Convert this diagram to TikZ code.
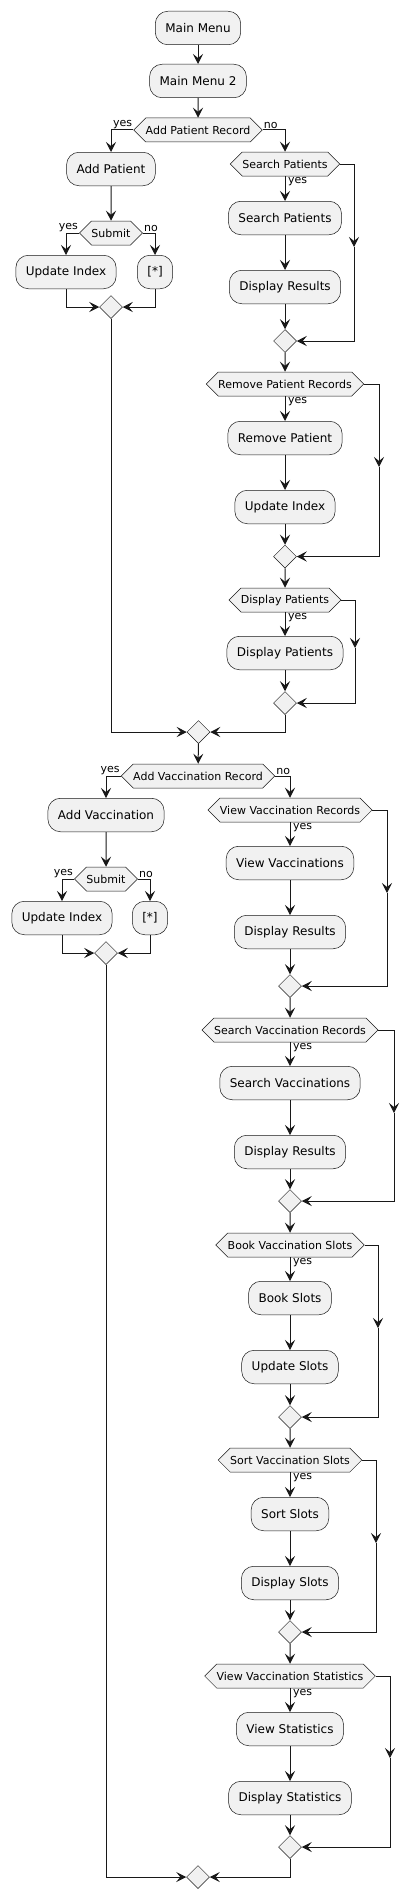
\documentclass[tikz,border=0pt]{standalone}
\usepackage{fontspec}
\setmainfont{DejaVu Sans}
\usetikzlibrary{arrows.meta, shapes.geometric, shapes.symbols}
\definecolor{actfill}{HTML}{F1F1F1}
\definecolor{actline}{HTML}{181818}

\begin{document}
\begin{tikzpicture}[
  x=1pt, y=-1pt,
  act/.style={draw=actline, line width=0.5pt, rounded corners=12.5pt, fill=actfill,
              minimum height=33.5pt, inner xsep=10pt, font=\fontsize{12}{14}\selectfont},
  cond/.style={draw=actline, line width=0.5pt, fill=actfill, signal,
               signal to=west and east, signal pointer angle=90,
               minimum height=24pt, inner xsep=0pt, inner ysep=0pt,
               font=\fontsize{11}{13}\selectfont},
  merge/.style={draw=actline, line width=0.5pt, fill=actfill, diamond,
                minimum width=23pt, minimum height=23pt, inner sep=0pt},
  arr/.style={-{Stealth[length=10pt, width=10pt, inset=4pt]}, line width=1pt, draw=actline},
  lbl/.style={font=\fontsize{11}{13}\selectfont, inner sep=1pt}
]
  \path[use as bounding box, fill=white] (0,0) rectangle (418,1900);

  % patient part
  \node[act] (main1) at (198,28) {Main Menu};
  \node[act] (main2) at (198,81) {Main Menu 2};
  \node[cond] (qpat) at (198,130) {Add Patient Record};
  \node[lbl, anchor=south east] (ypat) at (qpat.west) {yes};
  \node[lbl, anchor=south west] (npat) at (qpat.east) {no};

  \node[act] (addp) at (111,169) {Add Patient};
  \node[cond] (qsub1) at (111,233) {Submit};
  \node[lbl, anchor=south east] (ysub1) at (qsub1.west) {yes};
  \node[lbl, anchor=south west] (nsub1) at (qsub1.east) {no};
  \node[act] (upd1) at (66,272) {Update Index};
  \node[act] (star1) at (155,272) {[*]};
  \node[merge] (m1) at (111,307) {};

  \node[cond] (qsearch) at (285,164) {Search Patients};
  \node[lbl, anchor=north west] (ysearch) at ([xshift=2pt]qsearch.south) {yes};
  \node[act] (srch) at (285,218) {Search Patients};
  \node[act] (disp1) at (285,287) {Display Results};
  \node[merge] (m2) at (285,341) {};
  \coordinate (b1) at (354,247);

  \node[cond] (qrem) at (285,384) {Remove Patient Records};
  \node[lbl, anchor=north west] (yrem) at ([xshift=2pt]qrem.south) {yes};
  \node[act] (rem) at (285,438) {Remove Patient};
  \node[act] (upd2) at (285,507) {Update Index};
  \node[merge] (m3) at (285,556.5) {};
  \coordinate (b2) at (379,467);

  \node[cond] (qdisp) at (285,600) {Display Patients};
  \node[lbl, anchor=north west] (ydisp) at ([xshift=2pt]qdisp.south) {yes};
  \node[act] (dispp) at (285,653) {Display Patients};
  \node[merge] (m4) at (285,703) {};
  \coordinate (b3) at (355,648);

  \node[merge] (m5) at (198.5,732) {};

  % vaccination part
  \node[cond] (qvac) at (198,776) {Add Vaccination Record};
  \node[lbl, anchor=south east] (yvac) at (qvac.west) {yes};
  \node[lbl, anchor=south west] (nvac) at (qvac.east) {no};

  \node[act] (addv) at (106,815) {Add Vaccination};
  \node[cond] (qsub2) at (106,879) {Submit};
  \node[lbl, anchor=south east] (ysub2) at (qsub2.west) {yes};
  \node[lbl, anchor=south west] (nsub2) at (qsub2.east) {no};
  \node[act] (upd3) at (62,918) {Update Index};
  \node[act] (star2) at (150,918) {[*]};
  \node[merge] (m6) at (106,953) {};

  \node[cond] (qview) at (290,810) {View Vaccination Records};
  \node[lbl, anchor=north west] (yview) at ([xshift=2pt]qview.south) {yes};
  \node[act] (viewv) at (290,863) {View Vaccinations};
  \node[act] (disp2) at (290,932) {Display Results};
  \node[merge] (m7) at (290,986) {};
  \coordinate (b4) at (387,893);

  \node[cond] (qsv) at (290,1030) {Search Vaccination Records};
  \node[lbl, anchor=north west] (ysv) at ([xshift=2pt]qsv.south) {yes};
  \node[act] (srchv) at (290,1083) {Search Vaccinations};
  \node[act] (disp3) at (290,1152) {Display Results};
  \node[merge] (m8) at (290,1201) {};
  \coordinate (b5) at (394,1113);

  \node[cond] (qbook) at (290,1245) {Book Vaccination Slots};
  \node[lbl, anchor=north west] (ybook) at ([xshift=2pt]qbook.south) {yes};
  \node[act] (book) at (290,1298) {Book Slots};
  \node[act] (updsl) at (290,1367) {Update Slots};
  \node[merge] (m9) at (290,1417) {};
  \coordinate (b6) at (378,1328);

  \node[cond] (qsort) at (290,1460) {Sort Vaccination Slots};
  \node[lbl, anchor=north west] (ysort) at ([xshift=2pt]qsort.south) {yes};
  \node[act] (sort) at (290,1514) {Sort Slots};
  \node[act] (dispsl) at (290,1583) {Display Slots};
  \node[merge] (m10) at (290,1632) {};
  \coordinate (b7) at (376,1543);

  \node[cond] (qstat) at (290,1676) {View Vaccination Statistics};
  \node[lbl, anchor=north west] (ystat) at ([xshift=2pt]qstat.south) {yes};
  \node[act] (stat) at (290,1729) {View Statistics};
  \node[act] (dispst) at (290,1798) {Display Statistics};
  \node[merge] (m11) at (290,1847) {};
  \coordinate (b8) at (390,1758);

  \node[merge] (m12) at (198,1877) {};

  % connectors
  \draw[arr] (main1) -- (main2);
  \draw[arr] (main2) -- (qpat);
  \draw[arr] (qpat.west) -| (addp.north);
  \draw[arr] (qpat.east) -| (qsearch.north);
  \draw[arr] (addp) -- (qsub1);
  \draw[arr] (qsub1.west) -| (upd1.north);
  \draw[arr] (qsub1.east) -| (star1.north);
  \draw[arr] (upd1.south) |- (m1.west);
  \draw[arr] (star1.south) |- (m1.east);
  \draw[arr] (m1.south) |- (m5.west);

  \draw[arr] (qsearch) -- (srch);
  \draw[arr] (srch) -- (disp1);
  \draw[arr] (disp1) -- (m2);
  \draw[arr] (qsearch.east) -| (b1);
  \draw[arr] (b1) |- (m2.east);
  \draw[arr] (m2) -- (qrem);
  \draw[arr] (qrem) -- (rem);
  \draw[arr] (rem) -- (upd2);
  \draw[arr] (upd2) -- (m3);
  \draw[arr] (qrem.east) -| (b2);
  \draw[arr] (b2) |- (m3.east);
  \draw[arr] (m3) -- (qdisp);
  \draw[arr] (qdisp) -- (dispp);
  \draw[arr] (dispp) -- (m4);
  \draw[arr] (qdisp.east) -| (b3);
  \draw[arr] (b3) |- (m4.east);
  \draw[arr] (m4.south) |- (m5.east);

  \draw[arr] (m5) -- (qvac);
  \draw[arr] (qvac.west) -| (addv.north);
  \draw[arr] (qvac.east) -| (qview.north);
  \draw[arr] (addv) -- (qsub2);
  \draw[arr] (qsub2.west) -| (upd3.north);
  \draw[arr] (qsub2.east) -| (star2.north);
  \draw[arr] (upd3.south) |- (m6.west);
  \draw[arr] (star2.south) |- (m6.east);
  \draw[arr] (m6.south) |- (m12.west);

  \draw[arr] (qview) -- (viewv);
  \draw[arr] (viewv) -- (disp2);
  \draw[arr] (disp2) -- (m7);
  \draw[arr] (qview.east) -| (b4);
  \draw[arr] (b4) |- (m7.east);
  \draw[arr] (m7) -- (qsv);
  \draw[arr] (qsv) -- (srchv);
  \draw[arr] (srchv) -- (disp3);
  \draw[arr] (disp3) -- (m8);
  \draw[arr] (qsv.east) -| (b5);
  \draw[arr] (b5) |- (m8.east);
  \draw[arr] (m8) -- (qbook);
  \draw[arr] (qbook) -- (book);
  \draw[arr] (book) -- (updsl);
  \draw[arr] (updsl) -- (m9);
  \draw[arr] (qbook.east) -| (b6);
  \draw[arr] (b6) |- (m9.east);
  \draw[arr] (m9) -- (qsort);
  \draw[arr] (qsort) -- (sort);
  \draw[arr] (sort) -- (dispsl);
  \draw[arr] (dispsl) -- (m10);
  \draw[arr] (qsort.east) -| (b7);
  \draw[arr] (b7) |- (m10.east);
  \draw[arr] (m10) -- (qstat);
  \draw[arr] (qstat) -- (stat);
  \draw[arr] (stat) -- (dispst);
  \draw[arr] (dispst) -- (m11);
  \draw[arr] (qstat.east) -| (b8);
  \draw[arr] (b8) |- (m11.east);
  \draw[arr] (m11.south) |- (m12.east);
\end{tikzpicture}
\end{document}
